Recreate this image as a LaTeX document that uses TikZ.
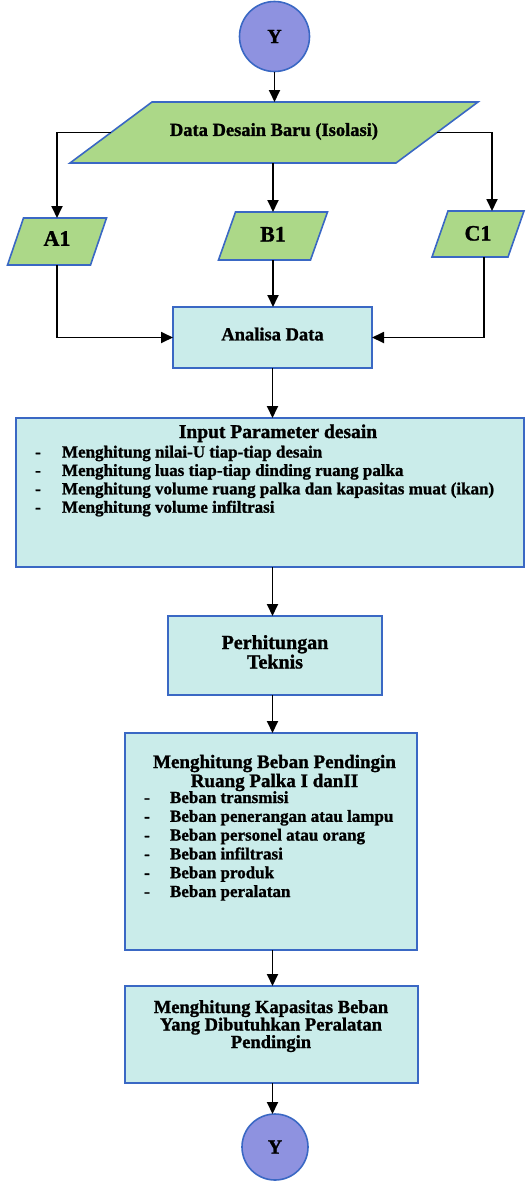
\documentclass[tikz,border=0pt]{standalone}
\usepackage{fontspec}
\setmainfont{Liberation Serif}[BoldFeatures={FakeBold=1.2}]
\usetikzlibrary{arrows.meta,backgrounds}

\definecolor{paragreen}{RGB}{172,216,136}
\definecolor{boxcyan}{RGB}{202,236,234}
\definecolor{edgeblue}{RGB}{58,104,196}
\definecolor{circfill}{RGB}{142,146,224}

% bold serif at a given size / baseline skip
\newcommand{\bsz}[2]{\fontsize{#1}{#2}\selectfont\bfseries}
% slanted input/output shape drawn round an (invisible) rectangular node
\newcommand{\parashape}[2]{%
  \path[paraedge] ([xshift=-#2]#1.south west) -- ([xshift=-#2]#1.south east)
    -- ([xshift=#2]#1.north east) -- ([xshift=#2]#1.north west) -- cycle;}

\begin{document}
\begin{tikzpicture}[x=1pt,y=-1pt,
  every node/.style={inner sep=0pt,outer sep=0pt},
  iobox/.style={rectangle},
  paraedge/.style={draw=edgeblue,fill=paragreen,line width=1.6pt,line join=miter},
  procbox/.style={rectangle,draw=edgeblue,fill=boxcyan,line width=1.6pt},
  termc/.style={circle,draw=edgeblue,fill=circfill,line width=1.6pt,font=\bsz{20}{20}},
  connector/.style={draw=black,line width=1.8pt,-{Triangle[length=12pt,width=11pt]}},
  itm/.style={anchor=base west,font=\bsz{17}{18}},
  dashmark/.style={anchor=base,font=\bsz{17}{18}}]

\useasboundingbox (0,0) rectangle (526,1181);

% terminators
\node[termc,minimum size=70pt] (ytop) at (274.5,36.5) {Y};
\node[termc,minimum size=66pt] (ybot) at (275,1147) {Y};

% input data shapes
\node[iobox,minimum width=326pt,minimum height=61pt,font=\bsz{18.5}{19}]
  (dd) at (274,132.5) {\raisebox{6pt}{Data Desain Baru (Isolasi)}};
\node[iobox,minimum width=83pt,minimum height=47pt,font=\bsz{22}{22}]
  (a1) at (57,241.5) {\raisebox{6pt}{A1}};
\node[iobox,minimum width=92pt,minimum height=48pt,font=\bsz{22}{22}]
  (b1) at (273,236) {\raisebox{3.5pt}{B1}};
\node[iobox,minimum width=76pt,minimum height=46pt,font=\bsz{22}{22}]
  (c1) at (478,234) {\raisebox{1.5pt}{C1}};

\begin{scope}[on background layer]
  \parashape{dd}{41pt}
  \parashape{a1}{8pt}
  \parashape{b1}{8.5pt}
  \parashape{c1}{8pt}
\end{scope}

% process boxes
\node[procbox,minimum width=199pt,minimum height=61pt,font=\bsz{18.5}{19}]
  (ad) at (272.5,337.5) {\raisebox{7pt}{Analisa Data}};
\node[procbox,minimum width=508pt,minimum height=149pt] (inp) at (270,492.5) {};
\node[procbox,minimum width=214pt,minimum height=79pt] (per) at (275,655.5) {};
\node[procbox,minimum width=292pt,minimum height=217pt] (beb) at (271,841.5) {};
\node[procbox,minimum width=293pt,minimum height=97pt] (kap) at (271.5,1034.5) {};

% texts of the input parameter box
\node[anchor=base,font=\bsz{19.5}{20}] (inpt) at (278,438) {Input Parameter desain};
\foreach \t [count=\i from 0] in {Menghitung nilai-U tiap-tiap desain,
    Menghitung luas tiap-tiap dinding ruang palka,
    Menghitung volume ruang palka dan kapasitas muat (ikan),
    Menghitung volume infiltrasi}{
  \node[dashmark] (inpd\i) at (38,457.5+18.4*\i) {-};
  \node[itm] (inpi\i) at (62,457.5+18.4*\i) {\t};
}

% texts of the technical calculation box
\node[anchor=base,font=\bsz{20}{20}] (pert1) at (275,649) {Perhitungan};
\node[anchor=base,font=\bsz{20}{20}] (pert2) at (275,668.5) {Teknis};

% texts of the cooling load box
\node[anchor=base,font=\bsz{19}{19}] (bebt1) at (274.5,768) {Menghitung Beban Pendingin};
\node[anchor=base,font=\bsz{19}{19}] (bebt2) at (274.5,787) {Ruang Palka I danII};
\foreach \t [count=\i from 0] in {Beban transmisi,Beban penerangan atau lampu,
    Beban personel atau orang,Beban infiltrasi,Beban produk,Beban peralatan}{
  \node[dashmark] (bebd\i) at (147,803+18.8*\i) {-};
  \node[itm] (bebi\i) at (170,803+18.8*\i) {\t};
}

% texts of the capacity box
\node[anchor=base,font=\bsz{18.5}{19}] (kapt1) at (271,1013) {Menghitung Kapasitas Beban};
\node[anchor=base,font=\bsz{18.5}{19}] (kapt2) at (271,1030.5) {Yang Dibutuhkan Peralatan};
\node[anchor=base,font=\bsz{18.5}{19}] (kapt3) at (271,1048) {Pendingin};

% connectors
\draw[connector] (ytop.south) -- (ytop.south |- dd.north);
\draw[connector] (dd.west) -| (a1.north);
\draw[connector] (dd.south -| b1.north) -- (b1.north);
\draw[connector] (dd.east) -| ([xshift=14pt]c1.north);
\draw[connector] (a1.south) |- (ad.west);
\draw[connector] (b1.south) -- (b1.south |- ad.north);
\draw[connector] ([xshift=6pt]c1.south) |- (ad.east);
\draw[connector] (ad.south) -- (ad.south |- inp.north);
\draw[connector] (ad.south |- inp.south) -- (ad.south |- per.north);
\draw[connector] (ad.south |- per.south) -- (ad.south |- beb.north);
\draw[connector] (ad.south |- beb.south) -- (ad.south |- kap.north);
\draw[connector] (ad.south |- kap.south) -- (ad.south |- ybot.north);
\end{tikzpicture}
\end{document}
